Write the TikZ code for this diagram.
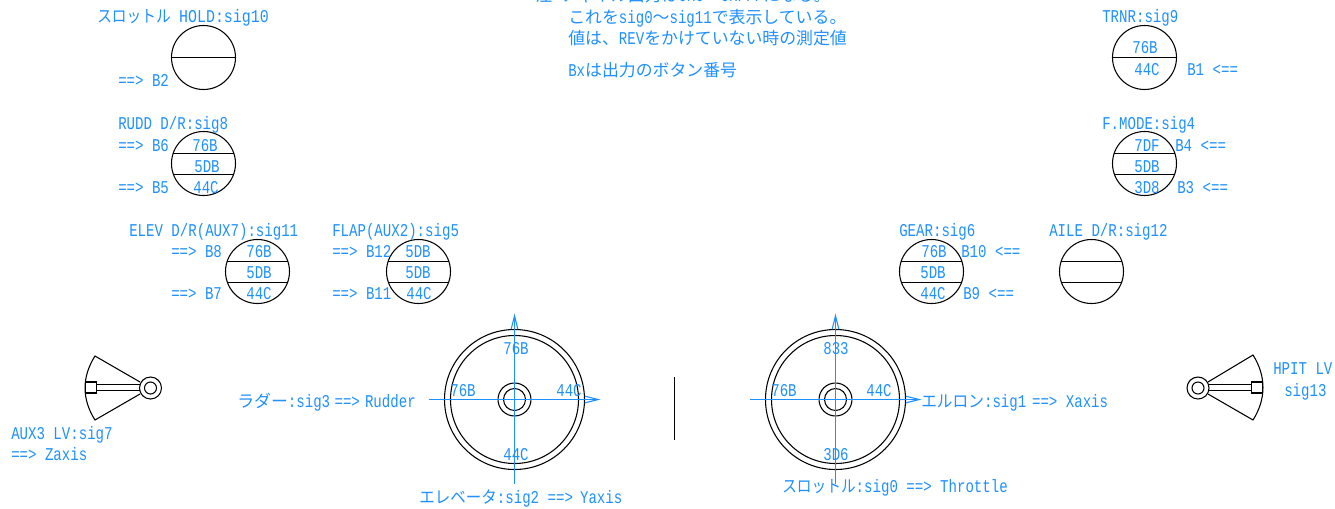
\documentclass[tikz,border=0pt]{standalone}
\usepackage{fontspec}
\usetikzlibrary{arrows.meta}
\setmainfont[FakeStretch=0.782]{Liberation Mono}
\newfontfamily\cjk[Scale=0.938]{Noto Sans CJK JP}
\newcommand\J[1]{{\cjk #1}}
\newcommand\K[2]{{\cjk\addfontfeature{FakeStretch=#1}#2}}
\definecolor{sky}{RGB}{30,144,255}
\tikzset{
  x=0.75pt,y=-0.75pt,
  ink/.style={line width=0.8pt,draw=black},
  chord/.style={line width=0.75pt,draw=black},
  lbl/.style={anchor=base west,inner sep=0pt,text=sky,font=\fontsize{13.5}{15}\selectfont},
  val/.style={anchor=base,inner sep=0pt,text=sky,font=\fontsize{13.5}{15}\selectfont},
  dial/.style={circle,ink,inner sep=0pt,minimum size=48pt},
  ring/.style={circle,ink,inner sep=0pt,minimum size=#1*0.75pt},
  axis/.style={line width=0.85pt,draw=sky,-{Straight Barb[length=10pt,width=5pt]}},
}
\newcommand\dialThree[3]{%
  \node[dial] (#1) at (#2,#3) {};
  \draw[chord] ([shift={(-30.4,-10)}]#1.center) -- ([shift={(30.4,-10)}]#1.center);
  \draw[chord] ([shift={(-30,11)}]#1.center) -- ([shift={(30,11)}]#1.center);
}
\newcommand\dialOne[3]{%
  \node[dial] (#1) at (#2,#3) {};
  \draw[chord] (#1.west) -- (#1.east);
}
\newcommand\bigDial[3]{%
  \node[ring=140] (#1o) at (#2,#3) {};
  \node[ring=128] (#1i) at (#2,#3) {};
  \node[ring=33] (#1h) at (#2,#3) {};
  \node[ring=22] (#1c) at (#2,#3) {};
  \coordinate (#1w) at (#2-86,#3);
  \coordinate (#1e) at (#2+86,#3);
  \coordinate (#1n) at (#2,#3-86);
  \coordinate (#1s) at (#2,#3+84);
  \draw[axis] (#1w) -- (#1e);
  \draw[axis] (#1s) -- (#1n);
}
\begin{document}
\begin{tikzpicture}
\useasboundingbox (0,0) rectangle (1335,508);
% notes
\node[lbl] (n0) at (535,1) {\J{注} \J{チャネル出力は}0x0\J{～}0xFFF\J{になる。}};
\node[lbl] (n1) at (568,23) {\J{これを}sig0\J{～}sig11\J{で表示している。}};
\node[lbl] (n2) at (568,44) {\J{値は、}REV\J{をかけていない時の測定値}};
\node[lbl] (n3) at (568,76) {Bx\J{は出力のボタン番号}};
% throttle hold
\dialOne{hold}{203.5}{57.5}
\node[lbl] (holdt) at (97,22) {\K{0.87}{スロットル}\ {\addfontfeature{FakeStretch=0.83}HOLD:sig10}};
\node[lbl] (holdb) at (118,86) {==> B2};
% TRNR
\dialOne{trnr}{1144.5}{57.5}
\node[lbl] (trnrt) at (1102,22) {TRNR:sig9};
\node[val] (trnra) at (1145,53) {76B};
\node[val] (trnrc) at (1147,75) {44C};
\node[lbl] (trnrb) at (1187,75) {B1 <==};
% RUDD
\dialThree{rudd}{203.5}{163.5}
\node[lbl] (ruddt) at (118,129) {RUDD D/R:sig8};
\node[lbl] (ruddb) at (118,151) {==> B6};
\node[lbl] (ruddd) at (118,193) {==> B5};
\node[val] (rudda) at (205,151) {76B};
\node[val] (ruddm) at (207,172) {5DB};
\node[val] (ruddc) at (206,193) {44C};
% F.MODE
\dialThree{fmode}{1144.5}{163.5}
\node[lbl] (fmodet) at (1102,129) {F.MODE:sig4};
\node[val] (fmodea) at (1147,151) {7DF};
\node[val] (fmodem) at (1147,172) {5DB};
\node[val] (fmodec) at (1147,193) {3D8};
\node[lbl] (fmodeb) at (1175,151) {B4 <==};
\node[lbl] (fmoded) at (1177,193) {B3 <==};
% ELEV
\dialThree{elev}{257.5}{271.5}
\node[lbl] (elevt) at (129,236) {ELEV D/R(AUX7):sig11};
\node[lbl] (elevb) at (171,257) {==> B8};
\node[lbl] (elevd) at (171,299) {==> B7};
\node[val] (eleva) at (259,257) {76B};
\node[val] (elevm) at (259,278) {5DB};
\node[val] (elevc) at (259,299) {44C};
% FLAP
\dialThree{flap}{418.5}{271.5}
\node[lbl] (flapt) at (332,236) {FLAP(AUX2):sig5};
\node[lbl] (flapb) at (332,257) {==> B12};
\node[lbl] (flapd) at (332,299) {==> B11};
\node[val] (flapa) at (418,257) {5DB};
\node[val] (flapm) at (418,278) {5DB};
\node[val] (flapc) at (419,299) {44C};
% GEAR
\dialThree{gear}{931.5}{271.5}
\node[lbl] (geart) at (899,236) {GEAR:sig6};
\node[val] (geara) at (934,257) {76B};
\node[val] (gearm) at (933,278) {5DB};
\node[val] (gearc) at (933,299) {44C};
\node[lbl] (gearb) at (961,257) {B10 <==};
\node[lbl] (geard) at (963,299) {B9 <==};
% AILE
\dialThree{aile}{1091.5}{271.5}
\node[lbl] (ailet) at (1049,236) {AILE D/R:sig12};
% sticks
\bigDial{ls}{514.5}{399.5}
\bigDial{rs}{835.5}{399.5}
\node[val] (lsa) at (516,354) {76B};
\node[val] (lsb) at (463,396) {76B};
\node[val] (lsc) at (569,396) {44C};
\node[val] (lsd) at (516,460) {44C};
\node[val] (rsa) at (836,354) {833};
\node[val] (rsb) at (784,396) {76B};
\node[val] (rsc) at (879,396) {44C};
\node[val] (rsd) at (836,460) {3D6};
\node[lbl] (rudl) at (237,407) {\J{ラダー}:sig3\kern-3pt\ ==>\kern-2.5pt\ Rudder};
\node[lbl] (aill) at (921,407) {\K{0.93}{エルロン}:sig1\kern-2pt\ ==> Xaxis};
\node[lbl] (elel) at (419,503) {\K{0.92}{エレベータ}:sig2 ==>\kern-1pt\ Yaxis};
\node[lbl] (thrl) at (782,492) {\K{0.87}{スロットル}:sig0 ==> Throttle};
% centre divider
\coordinate (divt) at (674.5,377);
\coordinate (divb) at (674.5,440);
\draw[chord] (divt) -- (divb);
% left lever
\node[ring=22] (lho) at (150.5,388) {};
\node[ring=12] (lhi) at (150.5,388) {};
\node[ink,rectangle,inner sep=0pt,minimum width=8.25pt,minimum height=8.25pt] (lsq) at (91,387.5) {};
\coordinate (lt) at (95,356);
\coordinate (lb) at (95,420);
\coordinate (lh1) at (140,382);
\coordinate (lh2) at (140,394);
\coordinate (lb1) at (140,384.5);
\coordinate (lb2) at (140,390.5);
\draw[ink] (lh1) -- (lt) .. controls (81.7,377) and (81.7,399) .. (lb) -- (lh2);
\draw[chord] (lsq.east |- lb1) -- (lb1);
\draw[chord] (lsq.east |- lb2) -- (lb2);
\node[lbl] (lvl1) at (11,439) {AUX3 LV:sig7};
\node[lbl] (lvl2) at (11,460) {==> Zaxis};
% right lever
\node[ring=22] (rho) at (1198,388) {};
\node[ring=12] (rhi) at (1198,388) {};
\node[ink,rectangle,inner sep=0pt,minimum width=8.25pt,minimum height=8.25pt] (rsq) at (1257,387.5) {};
\coordinate (rt) at (1253,355);
\coordinate (rb) at (1253,420);
\coordinate (rh1) at (1208,382);
\coordinate (rh2) at (1208,394);
\coordinate (rb1) at (1208,384.5);
\coordinate (rb2) at (1208,390.5);
\draw[ink] (rh1) -- (rt) .. controls (1266.3,376) and (1266.3,399) .. (rb) -- (rh2);
\draw[chord] (rsq.west |- rb1) -- (rb1);
\draw[chord] (rsq.west |- rb2) -- (rb2);
\node[lbl] (rvl1) at (1273,374) {HPIT LV};
\node[lbl] (rvl2) at (1284,396) {sig13};
\end{tikzpicture}
\end{document}
